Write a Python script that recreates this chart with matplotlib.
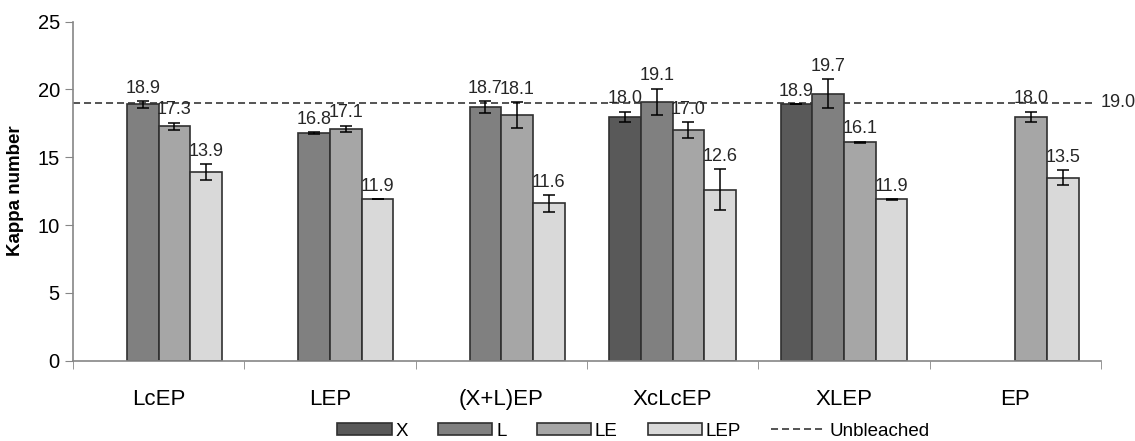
import numpy as np
import matplotlib.pyplot as plt

plt.rcParams['font.family'] = ['Liberation Sans', 'DejaVu Sans']

groups = ['LcEP', 'LEP', '(X+L)EP', 'XcLcEP', 'XLEP', 'EP']
series = ['X', 'L', 'LE', 'LEP']
colors = ['#595959', '#808080', '#a6a6a6', '#d9d9d9']

# kappa numbers per series (nan = not measured)
kappa_x = [np.nan, np.nan, np.nan, 18.0, 18.9, np.nan]
kappa_l = [18.9, 16.8, 18.7, 19.1, 19.7, np.nan]
kappa_le = [17.3, 17.1, 18.1, 17.0, 16.1, 18.0]
kappa_lep = [13.9, 11.9, 11.6, 12.6, 11.9, 13.5]

err_x = [0, 0, 0, 0.37, 0.0, 0]
err_l = [0.25, 0.05, 0.43, 0.95, 1.05, 0]
err_le = [0.26, 0.22, 0.95, 0.6, 0.05, 0.37]
err_lep = [0.6, 0.0, 0.6, 1.5, 0.03, 0.55]

unbleached = 19.0

values = [kappa_x, kappa_l, kappa_le, kappa_lep]
errors = [err_x, err_l, err_le, err_lep]

fig = plt.figure(figsize=(11.35, 4.41), dpi=100)
ax = fig.add_axes([0.0643, 0.182, 0.9057, 0.769])

x = np.arange(len(groups))
width = 0.185
for i, (name, vals, errs, col) in enumerate(zip(series, values, errors, colors)):
    pos = x + (i - 1.5) * width
    vals = np.array(vals, dtype=float)
    ax.bar(pos, vals, width, color=col, edgecolor='#303030', linewidth=1.2,
           label=name, zorder=2)
    ok = ~np.isnan(vals)
    ax.errorbar(pos[ok], vals[ok], yerr=np.array(errs)[ok], fmt='none',
                ecolor='black', elinewidth=1.1, capsize=4, capthick=1.1, zorder=3)
    for p, v, e in zip(pos[ok], vals[ok], np.array(errs)[ok]):
        ax.text(p, v + e + 0.95, f'{v:.1f}', ha='center', va='center',
                fontsize=13, color='#262626', zorder=4)

ax.plot([-0.5, 5.45], [unbleached, unbleached], ls=(0, (4.6, 2.6)), color='#262626',
        lw=1.1, label='Unbleached', zorder=1)
ax.text(5.5, unbleached, f'{unbleached:.1f}', ha='left', va='center',
        fontsize=13, color='#262626', clip_on=False)

ax.set_xlim(-0.5, 5.5)
ax.set_ylim(0, 25)
ax.set_yticks(np.arange(0, 26, 5))
ax.set_xticks(x)
ax.set_xticklabels(groups, fontsize=16)
ax.set_xticks(np.arange(-0.5, 6, 1), minor=True)
ax.tick_params(axis='x', which='major', length=0, pad=20)
ax.tick_params(axis='x', which='minor', length=6, color='#868686')
ax.tick_params(axis='y', length=6, color='#868686', labelsize=14.5)
ax.set_ylabel('Kappa number', fontsize=13.5, fontweight='bold', labelpad=10)

for s in ['top', 'right']:
    ax.spines[s].set_visible(False)
for s in ['left', 'bottom']:
    ax.spines[s].set_color('#868686')
    ax.spines[s].set_linewidth(1.2)

handles, labels = ax.get_legend_handles_labels()
order = [1, 2, 3, 4, 0]
ax.legend([handles[k] for k in order], [labels[k] for k in order],
          loc='lower center', bbox_to_anchor=(0.558, -0.035), bbox_transform=fig.transFigure,
          ncol=5, frameon=False, fontsize=13.5, handlelength=2.9, handleheight=0.55,
          handletextpad=0.2, columnspacing=1.6)

fig.savefig('out.png', dpi=100)
